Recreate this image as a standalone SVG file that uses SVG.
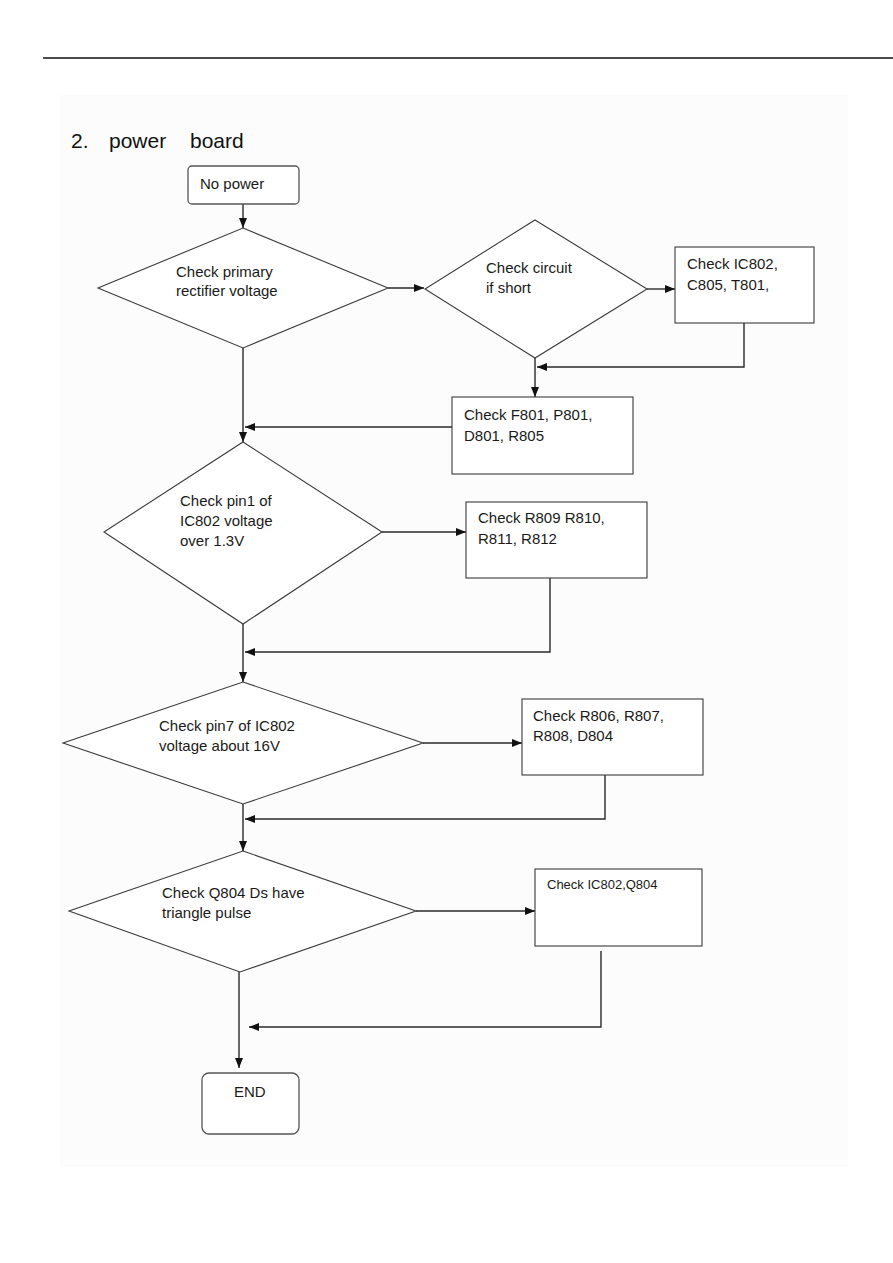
<svg xmlns="http://www.w3.org/2000/svg" width="893" height="1263" viewBox="0 0 893 1263">
<style>
text{font-family:"Liberation Sans",Arial,sans-serif;font-size:15px;fill:#1a1a1a}
.title{font-size:21px;fill:#111}
.shape{fill:#fff;stroke:#3a3a3a;stroke-width:1.1}
.term{fill:#fff;stroke:#555;stroke-width:1.3}
.conn{fill:none;stroke:#2a2a2a;stroke-width:1.4}
.small{font-size:13px}
</style>
<defs>
<marker id="ah" markerUnits="userSpaceOnUse" markerWidth="10" markerHeight="10" viewBox="0 0 10 10" refX="10" refY="5" orient="auto">
<path d="M0,1 L10,5 L0,9 Z" fill="#111"/>
</marker>
</defs>
<rect x="0" y="0" width="893" height="1263" fill="#fff"/>
<rect x="60" y="95" width="788" height="1072" fill="#fcfcfc"/>
<line x1="43" y1="58" x2="893" y2="58" stroke="#111" stroke-width="1.4"/>
<g id="title">
<text class="title" x="71" y="148">2.</text>
<text class="title" x="109" y="148">power</text>
<text class="title" x="190" y="148">board</text>
</g>
<g id="connectors">
<line class="conn" x1="243" y1="204" x2="243" y2="228" marker-end="url(#ah)"/>
<line class="conn" x1="388" y1="288" x2="424" y2="288" marker-end="url(#ah)"/>
<line class="conn" x1="647" y1="289" x2="675" y2="289" marker-end="url(#ah)"/>
<polyline class="conn" points="744,323 744,367 537,367" marker-end="url(#ah)"/>
<line class="conn" x1="535" y1="358" x2="535" y2="397" marker-end="url(#ah)"/>
<line class="conn" x1="452" y1="427" x2="245" y2="427" marker-end="url(#ah)"/>
<line class="conn" x1="243" y1="348" x2="243" y2="442" marker-end="url(#ah)"/>
<line class="conn" x1="382" y1="532" x2="466" y2="532" marker-end="url(#ah)"/>
<polyline class="conn" points="550,578 550,652 245,652" marker-end="url(#ah)"/>
<line class="conn" x1="243" y1="624" x2="243" y2="682" marker-end="url(#ah)"/>
<line class="conn" x1="423" y1="743" x2="522" y2="743" marker-end="url(#ah)"/>
<polyline class="conn" points="605,775 605,819 245,819" marker-end="url(#ah)"/>
<line class="conn" x1="243" y1="804" x2="243" y2="851" marker-end="url(#ah)"/>
<line class="conn" x1="416" y1="911" x2="535" y2="911" marker-end="url(#ah)"/>
<polyline class="conn" points="601,951 601,1027 249,1027" marker-end="url(#ah)"/>
<line class="conn" x1="239" y1="972" x2="239" y2="1068" marker-end="url(#ah)"/>
</g>
<g id="n_nopower">
<rect class="term" x="188" y="166" width="111" height="38" rx="4"/>
<text x="200" y="189">No power</text>
</g>
<g id="d_primary">
<polygon class="shape" points="243,228 388,288 243,348 98,288"/>
<text x="176" y="277">Check primary</text>
<text x="176" y="296">rectifier voltage</text>
</g>
<g id="d_short">
<polygon class="shape" points="535,220 647,289 535,358 425,289"/>
<text x="486" y="273">Check circuit</text>
<text x="486" y="293">if short</text>
</g>
<g id="b_ic802">
<rect class="shape" x="675" y="247" width="139" height="76"/>
<text x="687" y="269">Check IC802,</text>
<text x="687" y="290">C805, T801,</text>
</g>
<g id="b_f801">
<rect class="shape" x="452" y="397" width="181" height="77"/>
<text x="464" y="420">Check F801, P801,</text>
<text x="464" y="441">D801, R805</text>
</g>
<g id="d_pin1">
<polygon class="shape" points="243,442 382,532 243,624 104,532"/>
<text x="180" y="506">Check pin1 of</text>
<text x="180" y="526">IC802 voltage</text>
<text x="180" y="546">over 1.3V</text>
</g>
<g id="b_r809">
<rect class="shape" x="466" y="502" width="181" height="76"/>
<text x="478" y="523">Check R809 R810,</text>
<text x="478" y="544">R811, R812</text>
</g>
<g id="d_pin7">
<polygon class="shape" points="243,682 423,743 243,804 63,743"/>
<text x="159" y="731">Check pin7 of IC802</text>
<text x="159" y="751">voltage about 16V</text>
</g>
<g id="b_r806">
<rect class="shape" x="522" y="699" width="181" height="76"/>
<text x="533" y="721">Check R806, R807,</text>
<text x="533" y="741">R808, D804</text>
</g>
<g id="d_q804">
<polygon class="shape" points="243,851 416,911 240,972 69,911"/>
<text x="162" y="898">Check Q804 Ds have</text>
<text x="162" y="918">triangle pulse</text>
</g>
<g id="b_ic802q804">
<rect class="shape" x="535" y="869" width="167" height="77"/>
<text class="small" x="547" y="889">Check IC802,Q804</text>
</g>
<g id="n_end">
<rect class="term" x="202" y="1073" width="97" height="61" rx="7"/>
<text x="234" y="1097">END</text>
</g>
</svg>
